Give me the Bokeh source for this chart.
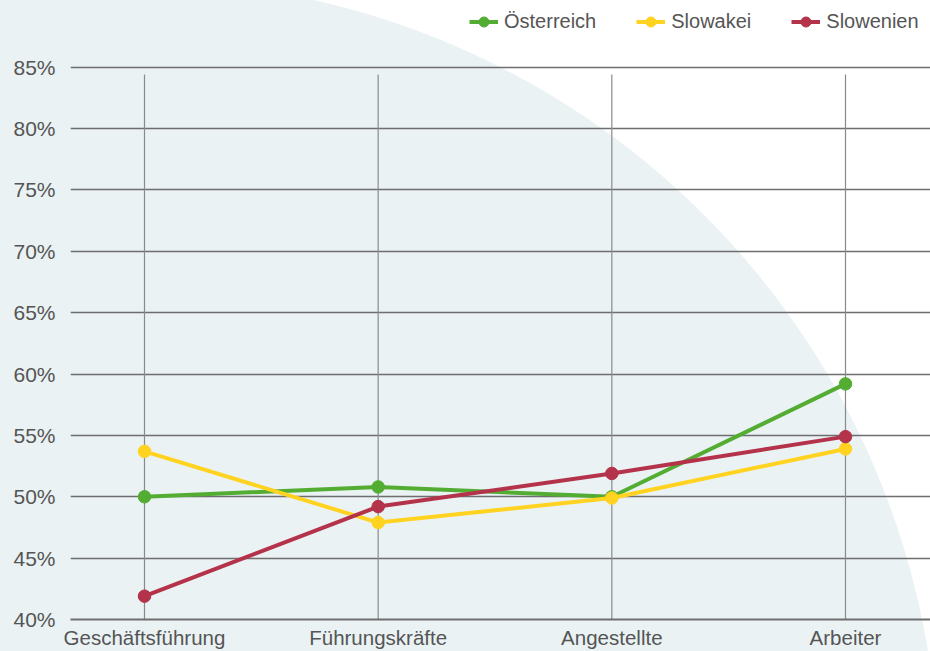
from bokeh.plotting import figure
from bokeh.models import (Range1d, FixedTicker, PrintfTickFormatter, Legend, LegendItem,
                          ColumnDataSource)
from bokeh.embed import file_html
from bokeh.resources import INLINE

# ---- data ----
categories = ["Geschäftsführung", "Führungskräfte", "Angestellte", "Arbeiter"]
series_names = ["Österreich", "Slowakei", "Slowenien"]
oesterreich = [50.0, 50.8, 50.0, 59.2]
slowakei = [53.7, 47.9, 49.9, 53.9]
slowenien = [41.9, 49.2, 51.9, 54.9]
y_ticks = [40, 45, 50, 55, 60, 65, 70, 75, 80, 85]

# ---- styles ----
colors = ["#52AD32", "#FFD31F", "#B4334B"]
FONT = "Liberation Sans"
TEXT = "#555555"
GRID = "#6e6e6e"
BG = "#EAF2F4"

W, H = 930, 651
x_pos = list(range(len(categories)))

p = figure(width=W, height=H, output_backend="svg", toolbar_location=None,
           x_range=Range1d(-0.3167, 3.3638), y_range=Range1d(40, 90.44),
           min_border_left=70, min_border_right=0, min_border_top=0, min_border_bottom=30)
p.outline_line_color = None
p.background_fill_alpha = 0
p.border_fill_alpha = 0
# large light quarter-circle behind the whole chart
p.styles = {"background-color": "#ffffff",
            "background-image": f"radial-gradient(circle 801px at 138px 781px, {BG} 800px, #ffffff 801px)"}

# grids
p.xgrid.visible = False
p.ygrid.ticker = FixedTicker(ticks=y_ticks)
p.ygrid.grid_line_color = GRID
p.ygrid.grid_line_width = 1.5

# vertical category lines
p.segment(x0=x_pos, y0=[y_ticks[0]] * len(x_pos), x1=x_pos, y1=[84.4] * len(x_pos),
          line_color="#8a8a8a", line_width=1.2)

# axes
p.yaxis.ticker = FixedTicker(ticks=y_ticks)
p.yaxis.formatter = PrintfTickFormatter(format="%d%%")
p.yaxis.axis_line_color = None
p.yaxis.major_tick_line_color = None
p.yaxis.minor_tick_line_color = None
p.yaxis.major_label_text_font = FONT
p.yaxis.major_label_text_font_size = "21px"
p.yaxis.major_label_text_color = TEXT
p.yaxis.major_label_standoff = 9

p.xaxis.ticker = FixedTicker(ticks=x_pos)
p.xaxis.major_label_overrides = {i: c for i, c in enumerate(categories)}
p.xaxis.axis_line_color = GRID
p.xaxis.axis_line_width = 2
p.xaxis.major_tick_line_color = None
p.xaxis.minor_tick_line_color = None
p.xaxis.major_label_text_font = FONT
p.xaxis.major_label_text_font_size = "20.5px"
p.xaxis.major_label_text_color = TEXT
p.xaxis.major_label_text_line_height = 0.5
p.xaxis.major_label_standoff = 0

items = []
for name, vals, col in zip(series_names, [oesterreich, slowakei, slowenien], colors):
    src = ColumnDataSource(dict(x=x_pos, y=vals))
    ln = p.line("x", "y", source=src, line_color=col, line_width=4)
    sc = p.scatter("x", "y", source=src, size=12.5, fill_color=col, line_color=col)
    items.append(LegendItem(label=name, renderers=[ln, sc]))

legend = Legend(items=items, orientation="horizontal", location=(399, 585),
                label_text_font=FONT, label_text_font_size="20px", label_text_color=TEXT,
                glyph_width=29, glyph_height=25, label_height=25, label_standoff=6,
                spacing=40, padding=0, margin=0, border_line_alpha=0,
                background_fill_alpha=0)
p.add_layout(legend, "center")

open("out.html", "w").write(file_html(p, INLINE))
